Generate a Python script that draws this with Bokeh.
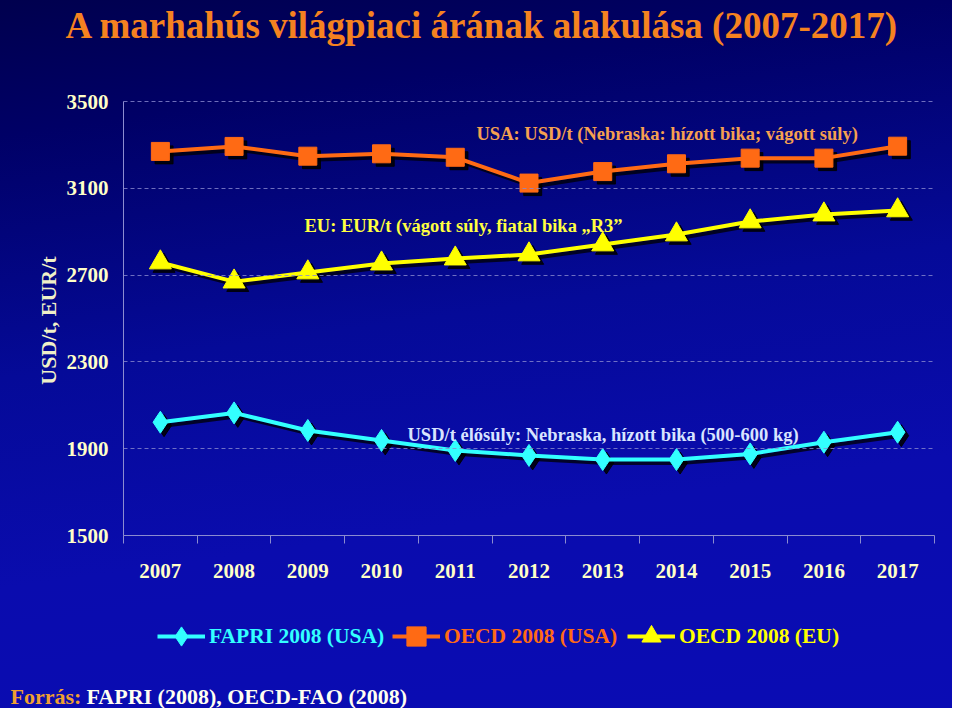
import numpy as np
from bokeh.plotting import figure
from bokeh.models import (Range1d, FixedTicker, ColumnDataSource, Label, Legend, LegendItem)
from bokeh.transform import dodge
from bokeh.embed import file_html
from bokeh.resources import INLINE

# ---- data ----
years = [2007, 2008, 2009, 2010, 2011, 2012, 2013, 2014, 2015, 2016, 2017]
fapri_usa = [2022, 2065, 1984, 1938, 1892, 1869, 1850, 1850, 1876, 1930, 1976]
oecd_usa = [3270, 3293, 3248, 3259, 3243, 3124, 3177, 3213, 3239, 3239, 3294]
oecd_eu = [2758, 2670, 2712, 2753, 2776, 2795, 2841, 2887, 2947, 2979, 2998]
y_ticks = [1500, 1900, 2300, 2700, 3100, 3500]
x_bounds = [y - 0.5 for y in years] + [years[-1] + 0.5]

src = ColumnDataSource(dict(year=years, fapri=fapri_usa, usa=oecd_usa, eu=oecd_eu))

SERIF = "Liberation Serif"
W, H = 952, 708
# plot area in pixels: x 123..934 for 2006.5..2017.5, y 535..101 for 1500..3500
XPX = (934 - 123) / 11.0
YPX = (535 - 101) / 2000.0
x0 = 2006.5 - 123 / XPX
x1 = 2017.5 + (W - 934) / XPX
y0 = 1500 - (H - 535) / YPX
y1 = 3500 + 101 / YPX

p = figure(width=W, height=H, output_backend="svg", toolbar_location=None,
           x_range=Range1d(x0, x1), y_range=Range1d(y0, y1), min_border=0)
p.background_fill_color = None
p.border_fill_color = None
p.outline_line_color = None
p.styles = {"background-image": "linear-gradient(172deg, #00004e 0%, #000066 16%, #050a98 45%, #0a0cae 70%, #0a0cb4 100%)"}
p.xgrid.visible = False
p.ygrid.visible = False

# axes inside the full-canvas frame
xa = p.xaxis[0]
xa.fixed_location = 1500
xa.bounds = (2006.5, 2017.5)
xa.ticker = FixedTicker(ticks=years, minor_ticks=x_bounds)
xa.major_tick_line_color = None
xa.major_tick_out = 0
xa.major_tick_in = 0
xa.minor_tick_out = 8
xa.minor_tick_in = 0
xa.minor_tick_line_color = "#8c8cd0"
xa.axis_line_color = "#8c8cd0"
xa.major_label_standoff = 20
xa.major_label_text_font = SERIF
xa.major_label_text_font_style = "bold"
xa.major_label_text_font_size = "21px"
xa.major_label_text_color = "#ffffc8"

ya = p.yaxis[0]
ya.fixed_location = 2006.5
ya.bounds = (1500, 3500)
ya.ticker = FixedTicker(ticks=y_ticks)
ya.minor_tick_line_color = None
# dashed "grid" lines drawn as long inward ticks
ya.major_tick_out = 0
ya.major_tick_in = int(round(934 - 123))
ya.major_tick_line_color = "#8a8ad0"
ya.major_tick_line_dash = "4 3"
ya.major_tick_line_alpha = 0.8
ya.major_label_standoff = 15
ya.axis_line_color = "#8c8cd0"
ya.major_label_text_font = SERIF
ya.major_label_text_font_style = "bold"
ya.major_label_text_font_size = "21px"
ya.major_label_text_color = "#ffffc8"

# shadows
SX, SY = 0.05, -16
for col, mk, sz in [("usa", "square", 18), ("eu", "triangle", 22), ("fapri", "diamond", 22)]:
    p.line(x=dodge("year", SX), y=dodge(col, SY), source=src, line_color="black", line_width=4, line_alpha=0.75)
    p.scatter(x=dodge("year", SX), y=dodge(col, SY), source=src, marker=mk, size=sz,
              fill_color="black", line_color="black", alpha=0.85)

ORANGE = "#ff6a14"
YELLOW = "#ffff00"
CYAN = "#33ffff"

l_usa = p.line("year", "usa", source=src, line_color=ORANGE, line_width=4)
m_usa = p.scatter("year", "usa", source=src, marker="square", size=18, fill_color=ORANGE, line_color=ORANGE)
l_eu = p.line("year", "eu", source=src, line_color=YELLOW, line_width=4)
m_eu = p.scatter("year", "eu", source=src, marker="triangle", size=22, fill_color=YELLOW, line_color=YELLOW)
l_fa = p.line("year", "fapri", source=src, line_color=CYAN, line_width=4)
m_fa = p.scatter("year", "fapri", source=src, marker="diamond", size=22, fill_color=CYAN, line_color=CYAN)

# legends (one per item so each gets its own text colour)
def make_legend(label, rends, color, px_left):
    lg = Legend(items=[LegendItem(label=label, renderers=rends)], location=(px_left, H - 661),
                orientation="horizontal", background_fill_alpha=0, border_line_color=None,
                glyph_width=48, glyph_height=50, label_standoff=4, padding=0, margin=0,
                label_text_font=SERIF, label_text_font_style="bold",
                label_text_font_size="21.5px", label_text_color=color)
    p.add_layout(lg, "center")

make_legend("FAPRI 2008 (USA)", [l_fa, m_fa], CYAN, 157)
make_legend("OECD 2008 (USA)", [l_usa, m_usa], ORANGE, 392)
make_legend("OECD 2008 (EU)", [l_eu, m_eu], YELLOW, 627)

def lab(text, px, py, color, size, align="left", angle=0.0):
    p.add_layout(Label(x=px, y=H - py, x_units="screen", y_units="screen", text=text,
                       text_color=color, text_font=SERIF, text_font_style="bold",
                       text_font_size=size, text_align=align, text_baseline="middle",
                       angle=angle))

lab("A marhahús világpiaci árának alakulása (2007-2017)", 65, 25, "#f58220", "37px")
lab("USD/t, EUR/t", 48, 320, "#f0f0c8", "22px", align="center", angle=np.pi / 2)
lab("USA: USD/t (Nebraska: hízott bika; vágott súly)", 476, 133, "#f5a050", "18.5px")
lab("EU: EUR/t (vágott súly, fiatal bika \u201eR3\u201d", 304, 225, "#ffff40", "18.5px")
lab("USD/t élősúly: Nebraska, hízott bika (500-600 kg)", 407, 434, "#d8e4ff", "18.5px")
lab("Forrás:", 10, 696, "#f0a030", "22px")
lab("FAPRI (2008), OECD-FAO (2008)", 86, 696, "#fffff0", "22px")

open("out.html", "w").write(file_html(p, INLINE))
